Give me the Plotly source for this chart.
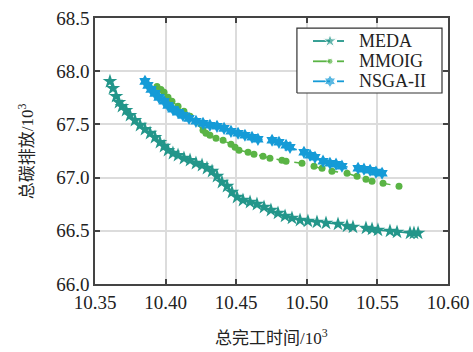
import plotly.graph_objects as go

meda_x = [10.3606, 10.3627, 10.3649, 10.3670, 10.3691, 10.3720, 10.3748, 10.3783, 10.3819, 10.3854,
          10.3890, 10.3925, 10.3960, 10.3989, 10.4017, 10.4052, 10.4088, 10.4130, 10.4173, 10.4215,
          10.4258, 10.4293, 10.4329, 10.4364, 10.4399, 10.4435, 10.4470, 10.4506, 10.4548, 10.4598,
          10.4647, 10.4697, 10.4746, 10.4796, 10.4846, 10.4895, 10.4952, 10.5008, 10.5072, 10.5136,
          10.5221, 10.5285, 10.5327, 10.5419, 10.5462, 10.5504, 10.5589, 10.5639, 10.5731, 10.5759,
          10.5788]
meda_y = [67.904, 67.839, 67.764, 67.707, 67.670, 67.632, 67.585, 67.538, 67.492, 67.454,
          67.417, 67.379, 67.332, 67.295, 67.257, 67.229, 67.210, 67.182, 67.163, 67.135,
          67.116, 67.088, 67.060, 67.013, 66.957, 66.919, 66.863, 66.816, 66.788, 66.769,
          66.750, 66.722, 66.694, 66.666, 66.638, 66.619, 66.600, 66.591, 66.582, 66.572,
          66.563, 66.544, 66.535, 66.525, 66.516, 66.507, 66.497, 66.488, 66.478, 66.478,
          66.478]

mmoig_x = [10.3939, 10.3967, 10.3989, 10.4017, 10.4045, 10.4088, 10.4130, 10.4173, 10.4265, 10.4286,
           10.4314, 10.4357, 10.4407, 10.4463, 10.4492, 10.4520, 10.4584, 10.4626, 10.4690, 10.4739,
           10.4824, 10.4853, 10.4966, 10.5051, 10.5108, 10.5178, 10.5285, 10.5356, 10.5419, 10.5462,
           10.5540, 10.5653]
mmoig_y = [67.857, 67.829, 67.801, 67.754, 67.717, 67.670, 67.623, 67.576, 67.445, 67.417,
           67.398, 67.370, 67.351, 67.313, 67.285, 67.257, 67.238, 67.220, 67.201, 67.182,
           67.163, 67.154, 67.135, 67.107, 67.088, 67.060, 67.041, 67.013, 66.985, 66.966,
           66.947, 66.919]

nsga_x = [10.3854, 10.3875, 10.3897, 10.3925, 10.3953, 10.3989, 10.4017, 10.4052, 10.4088, 10.4123,
          10.4166, 10.4215, 10.4265, 10.4314, 10.4364, 10.4414, 10.4463, 10.4513, 10.4562, 10.4612,
          10.4654, 10.4754, 10.4803, 10.4853, 10.4881, 10.4980, 10.5023, 10.5058, 10.5115, 10.5164,
          10.5207, 10.5249, 10.5363, 10.5405, 10.5448, 10.5490, 10.5533]
nsga_y = [67.904, 67.867, 67.829, 67.792, 67.754, 67.717, 67.679, 67.642, 67.614, 67.585,
          67.557, 67.529, 67.510, 67.492, 67.482, 67.463, 67.435, 67.417, 67.398, 67.379,
          67.360, 67.351, 67.332, 67.304, 67.285, 67.238, 67.210, 67.191, 67.154, 67.135,
          67.126, 67.107, 67.088, 67.079, 67.069, 67.051, 67.041]

series_names = ["MEDA", "MMOIG", "NSGA-II"]
x_ticks = [10.35, 10.40, 10.45, 10.50, 10.55, 10.60]
x_tick_labels = ["10.35", "10.40", "10.45", "10.50", "10.55", "10.60"]
y_ticks = [66.0, 66.5, 67.0, 67.5, 68.0, 68.5]
y_tick_labels = ["66.0", "66.5", "67.0", "67.5", "68.0", "68.5"]

FONT = '"Liberation Serif", "Times New Roman", "Noto Sans CJK SC", serif'
colors = ["#23968a", "#5ab445", "#159bd7"]
symbols = ["star", "circle", "hexagram"]
msizes = [11, 7, 10]
leg_msizes = [10, 6, 10]

fig = go.Figure()
for name, xs, ys, c, s, ms in zip(series_names, [meda_x, mmoig_x, nsga_x], [meda_y, mmoig_y, nsga_y],
                                  colors, symbols, msizes):
    fig.add_trace(go.Scatter(x=xs, y=ys, name=name, mode="lines+markers", showlegend=False,
                             line=dict(color=c, width=1.5, dash="dash"),
                             marker=dict(symbol=s, size=ms, color=c)))

axis_common = dict(showgrid=True, gridcolor="#dcdcdc", gridwidth=1.5, automargin=False,
                   showline=True, linecolor="#444444", linewidth=1.5, mirror="ticks",
                   ticks="inside", ticklen=5, tickcolor="#444444", tickwidth=1.5,
                   zeroline=False, tickfont=dict(family=FONT, size=19, color="#222222"))

fig.update_xaxes(range=[10.35, 10.60], tickvals=x_ticks, ticktext=x_tick_labels, **axis_common)
fig.update_yaxes(range=[66.0, 68.5], tickvals=y_ticks, ticktext=y_tick_labels, **axis_common)

# custom legend drawn on an overlay axis pair spanning the plot area in [0, 1]
bx0, bx1, by0, by1 = 0.572, 0.983, 0.718, 0.962
rows = [0.9135, 0.8372, 0.7620]
lx0, lmark, ld0, ld1, ltext = 0.6176, 0.6657, 0.6856, 0.7054, 0.7422
leg = dict(xaxis="x2", yaxis="y2", showlegend=False, hoverinfo="skip")
fig.add_trace(go.Scatter(x=[bx0, bx1, bx1, bx0, bx0], y=[by0, by0, by1, by1, by0], mode="lines",
                         fill="toself", fillcolor="white", line=dict(color="#333333", width=1.2), **leg))
for name, c, ry in zip(series_names, colors, rows):
    fig.add_trace(go.Scatter(x=[lx0, lmark, None, ld0, ld1], y=[ry, ry, None, ry, ry], mode="lines",
                             line=dict(color=c, width=1.8), **leg))
    fig.add_annotation(text=name, xref="x domain", yref="y domain", x=ltext, y=ry,
                       xanchor="left", yanchor="middle", showarrow=False,
                       font=dict(family=FONT, size=18, color="#222222"))
fig.add_trace(go.Scatter(x=[lmark] * 3, y=rows, mode="markers",
                         marker=dict(symbol=symbols, size=leg_msizes, color=colors), **leg))
fig.update_layout(
    xaxis2=dict(overlaying="x", range=[0, 1], visible=False, fixedrange=True),
    yaxis2=dict(overlaying="y", range=[0, 1], visible=False, fixedrange=True),
)

fig.add_annotation(text="总完工时间/10<sup>3</sup>", xref="paper", yref="paper",
                   x=0.5, y=-0.2, yanchor="middle", xanchor="center", showarrow=False,
                   font=dict(family=FONT, size=17, color="#222222"))
fig.add_annotation(text="总碳排放/10<sup>3</sup>", xref="paper", yref="paper",
                   x=-0.195, y=0.5, xanchor="center", yanchor="middle", textangle=-90,
                   showarrow=False, font=dict(family=FONT, size=17, color="#222222"))

fig.update_layout(
    width=473, height=352,
    margin=dict(l=95, r=25, t=18, b=68),
    plot_bgcolor="white", paper_bgcolor="white",
    showlegend=False,
)

fig.write_html("out.html", config={"displayModeBar": False},
               post_script="document.body.style.margin='0';")
